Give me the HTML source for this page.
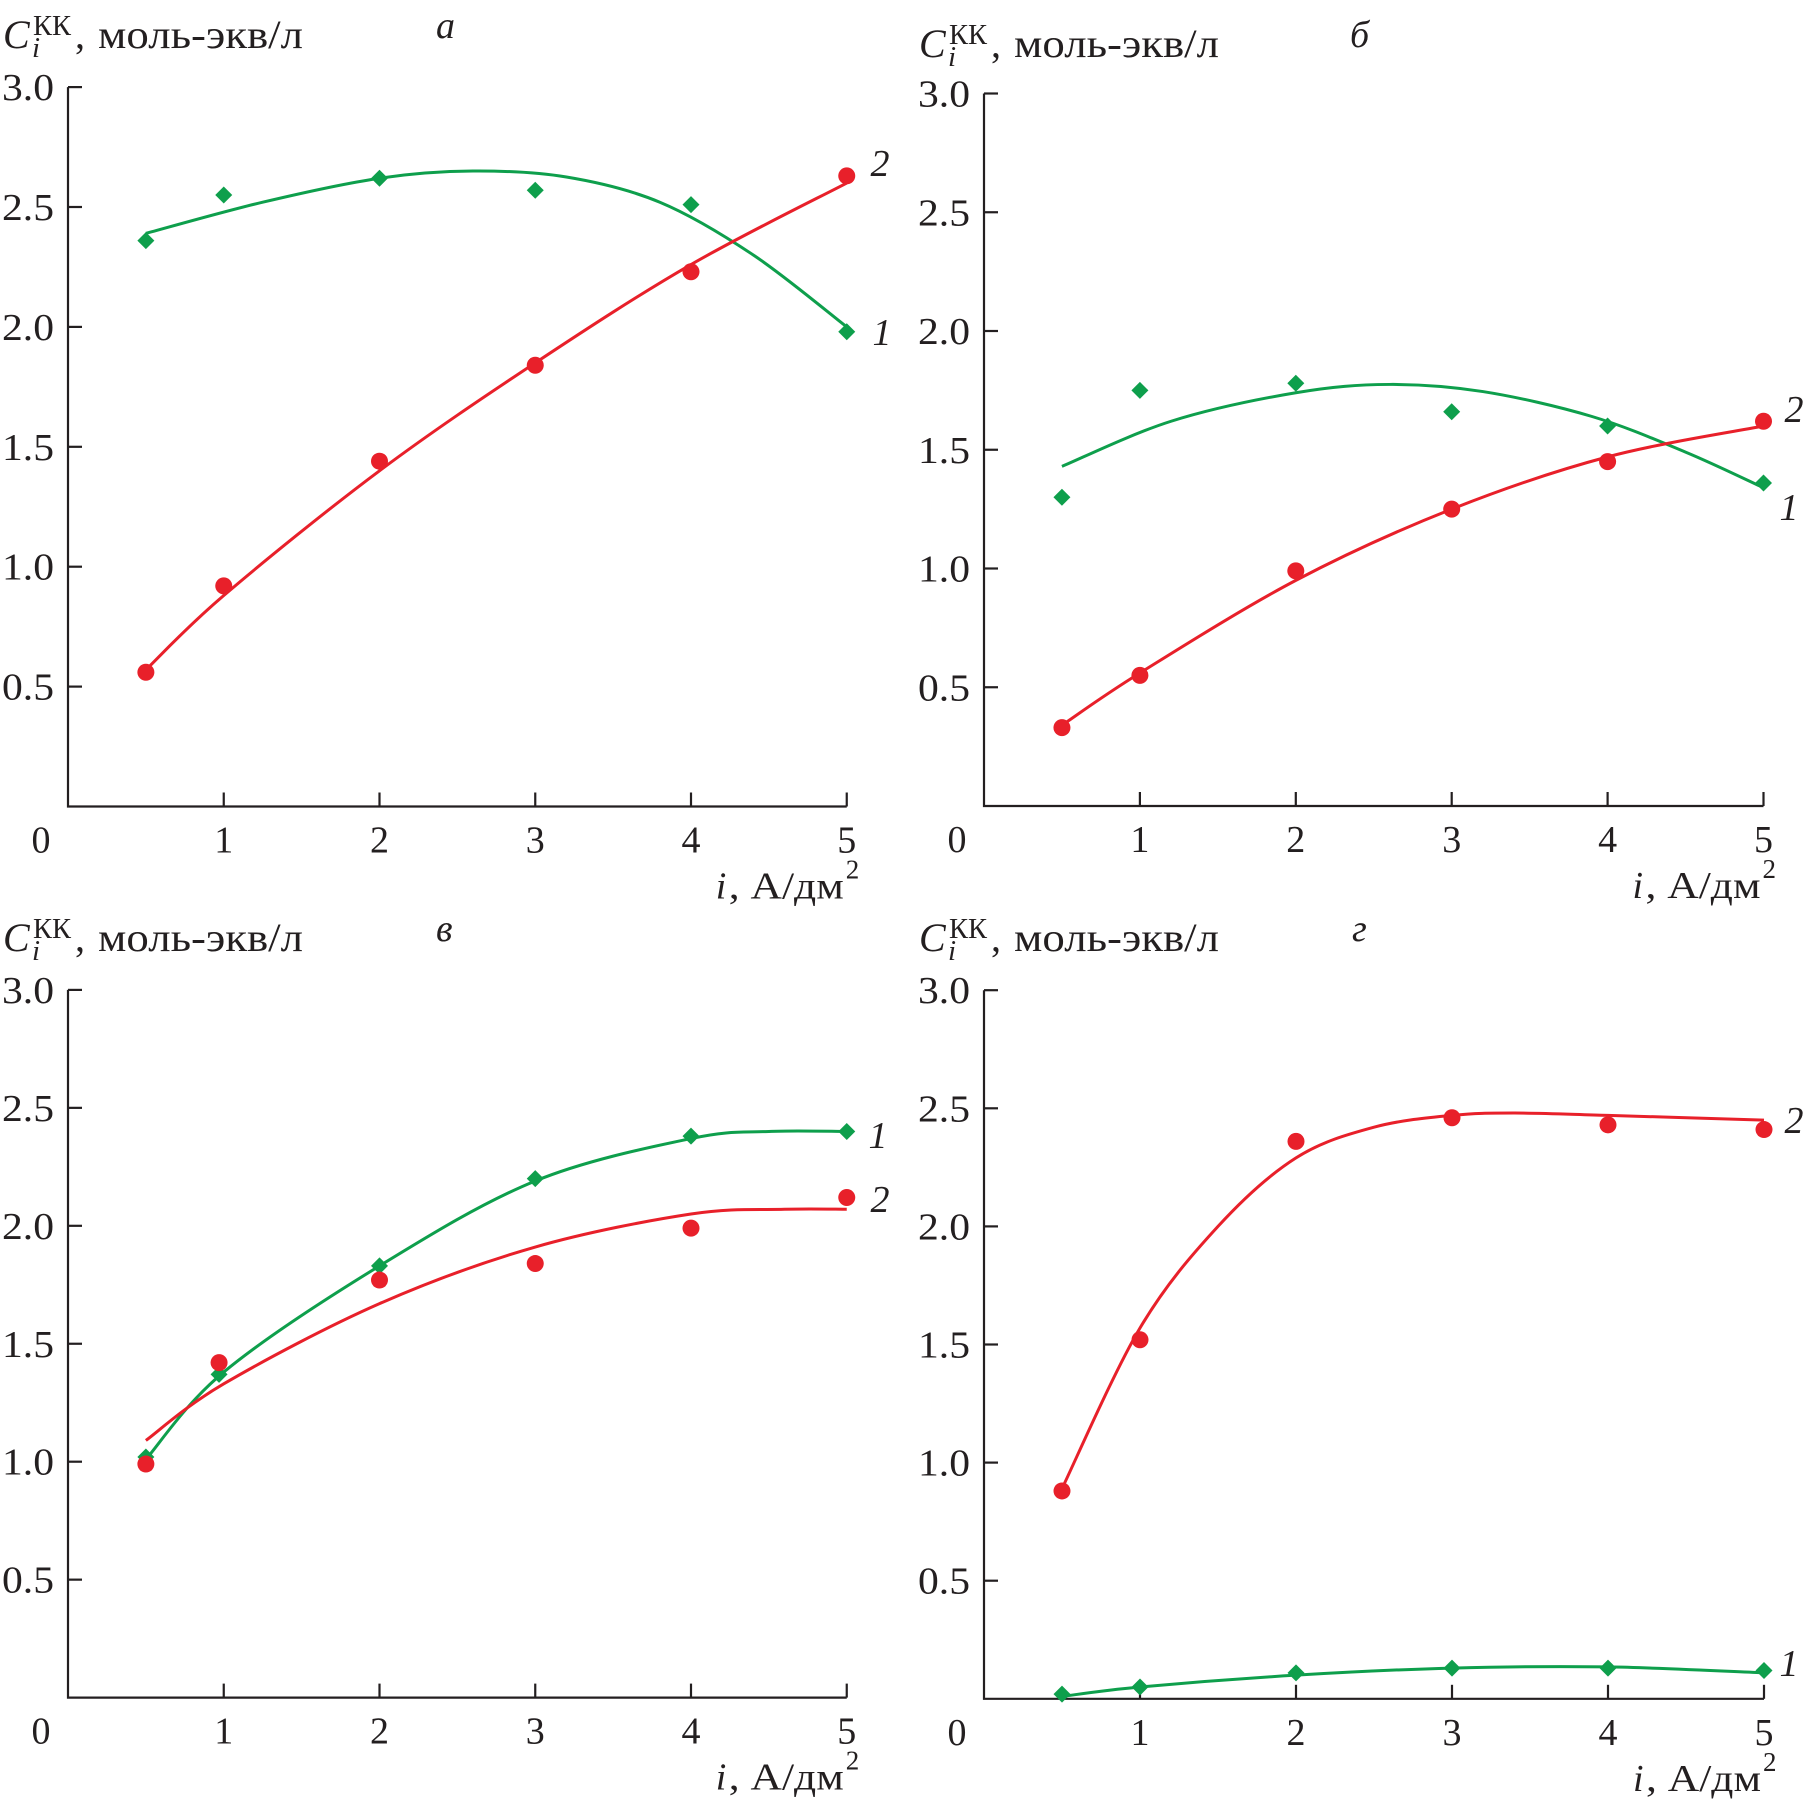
<!DOCTYPE html>
<html><head><meta charset="utf-8"><style>
html,body{margin:0;padding:0;background:#fff;}
svg{display:block;}
text{font-family:"Liberation Serif",serif;fill:#231f20;}
</style></head><body>
<svg id="s" width="1807" height="1808" viewBox="0 0 1807 1808" xmlns="http://www.w3.org/2000/svg"></svg>
<script>
const S=document.getElementById('s');
let out='';
const RED='#e8202a',GRN='#0e9f4c';
function panel(p){
 const {ax,y0,s,u,ttlY,letter,letX,labels}=p;
 const X=v=>ax+v*u, Y=v=>y0-v*s;
 out+=`<path d="M${ax} ${Y(3)} V${y0} H${X(5)}" stroke="#231f20" stroke-width="2.2" fill="none"/>`;
 for(let k=1;k<=6;k++){const v=k*0.5;out+=`<line x1="${ax}" x2="${ax+14}" y1="${Y(v)}" y2="${Y(v)}" stroke="#231f20" stroke-width="2.2"/>`;
  out+=`<text x="${ax-14}" y="${Y(v)+13}" font-size="38" text-anchor="end" textLength="52" lengthAdjust="spacingAndGlyphs">${v.toFixed(1)}</text>`;}
 for(let k=1;k<=5;k++){out+=`<line x1="${X(k)}" x2="${X(k)}" y1="${y0}" y2="${y0-14}" stroke="#231f20" stroke-width="2.2"/>`;
  out+=`<text x="${X(k)}" y="${y0+46}" font-size="38" text-anchor="middle">${k}</text>`;}
 out+=`<text x="${ax-27}" y="${y0+46}" font-size="38" text-anchor="middle">0</text>`;
 const xl=X(5)-131;
 out+=`<text x="${xl}" y="${y0+92}" font-size="38" font-style="italic">i</text>`;
 out+=`<text x="${xl+13}" y="${y0+92}" font-size="38" textLength="115" lengthAdjust="spacingAndGlyphs">, А/дм</text>`;
 out+=`<text x="${xl+130}" y="${y0+72}" font-size="27">2</text>`;
 const tx=ax-65;
 out+=`<text x="${tx}" y="${ttlY}" font-size="40" font-style="italic">C</text>`;
 out+=`<text x="${tx+30}" y="${ttlY-13}" font-size="29" textLength="38" lengthAdjust="spacingAndGlyphs">КК</text>`;
 out+=`<text x="${tx+29}" y="${ttlY+9}" font-size="29" font-style="italic">i</text>`;
 out+=`<text x="${tx+72}" y="${ttlY}" font-size="40">,</text>`;
 out+=`<text x="${tx+95}" y="${ttlY}" font-size="40" textLength="205" lengthAdjust="spacingAndGlyphs">моль-экв/л</text>`;
 out+=`<text x="${letX}" y="${ttlY-10}" font-size="38" font-style="italic">${letter}</text>`;
 for(const c of p.curves){
  const P=c.c.map(a=>[X(a[0]),Y(a[1])]);
  let d=`M${P[0][0]} ${P[0][1]}`;
  for(let i=0;i<P.length-1;i++){const p0=P[Math.max(0,i-1)],p1=P[i],p2=P[i+1],p3=P[Math.min(P.length-1,i+2)];
   d+=` C${p1[0]+(p2[0]-p0[0])/6} ${p1[1]+(p2[1]-p0[1])/6} ${p2[0]-(p3[0]-p1[0])/6} ${p2[1]-(p3[1]-p1[1])/6} ${p2[0]} ${p2[1]}`;}
  out+=`<path d="${d}" stroke="${c.col}" stroke-width="3" fill="none"/>`;
  for(const q of c.p){const x=X(q[0]),y=Y(q[1]);
   if(c.col==RED) out+=`<circle cx="${x}" cy="${y}" r="8.5" fill="${RED}"/>`;
   else out+=`<path d="M${x} ${y-8.5}L${x+8.5} ${y}L${x} ${y+8.5}L${x-8.5} ${y}Z" fill="${GRN}"/>`;}
 }
 for(const l of labels) out+=`<text x="${l[0]}" y="${l[1]+13}" font-size="38" font-style="italic" text-anchor="middle">${l[2]}</text>`;
}
panel({ax:68,y0:806.5,s:239.8,u:155.75,ttlY:48,letter:'а',letX:436,
 curves:[{col:GRN,p:[[0.5,2.36],[1,2.55],[2,2.62],[3,2.57],[4,2.51],[5,1.98]],c:[[0.5,2.39],[1.25,2.52],[2,2.62],[2.6,2.65],[3.2,2.625],[3.8,2.52],[4.4,2.3],[5,2.0]]},
 {col:RED,p:[[0.5,0.56],[1,0.92],[2,1.44],[3,1.84],[4,2.23],[5,2.63]],c:[[0.5,0.57],[1,0.88],[2,1.40],[3,1.85],[4,2.26],[5,2.60]]}],
 labels:[[880,163,'2'],[882,332,'1']]});
panel({ax:984,y0:806,s:237.5,u:155.9,ttlY:57,letter:'б',letX:1350,
 curves:[{col:GRN,p:[[0.5,1.30],[1,1.75],[2,1.78],[3,1.66],[4,1.60],[5,1.36]],c:[[0.5,1.43],[1.2,1.62],[2,1.74],[2.6,1.775],[3.2,1.745],[3.9,1.64],[4.5,1.49],[5,1.34]]},
 {col:RED,p:[[0.5,0.33],[1,0.55],[2,0.99],[3,1.25],[4,1.45],[5,1.62]],c:[[0.5,0.34],[1,0.56],[2,0.95],[3,1.25],[4,1.47],[5,1.60]]}],
 labels:[[1794,409,'2'],[1789,507,'1']]});
panel({ax:68,y0:1697.6,s:235.9,u:155.75,ttlY:951,letter:'в',letX:436,
 curves:[{col:GRN,p:[[0.5,1.02],[0.97,1.37],[2,1.83],[3,2.20],[4,2.38],[5,2.40]],c:[[0.5,1.01],[1,1.38],[2,1.83],[3,2.19],[4,2.37],[4.5,2.40],[5,2.40]]},
 {col:RED,p:[[0.5,0.99],[0.97,1.42],[2,1.77],[3,1.84],[4,1.99],[5,2.12]],c:[[0.5,1.09],[1,1.33],[2,1.67],[3,1.91],[4,2.05],[4.6,2.07],[5,2.07]]}],
 labels:[[878,1135,'1'],[880,1199,'2']]});
panel({ax:984,y0:1698.8,s:236.2,u:156,ttlY:951,letter:'г',letX:1352,
 curves:[{col:RED,p:[[0.5,0.88],[1,1.52],[2,2.36],[3,2.46],[4,2.43],[5,2.41]],c:[[0.5,0.89],[1,1.57],[1.5,2.0],[2,2.29],[2.5,2.42],[3,2.47],[3.4,2.48],[4,2.47],[5,2.45]]},
 {col:GRN,p:[[0.5,0.02],[1,0.05],[2,0.11],[3,0.13],[4,0.13],[5,0.12]],c:[[0.5,0.01],[1,0.05],[2,0.10],[3,0.13],[4,0.135],[5,0.11]]}],
 labels:[[1794,1120,'2'],[1789,1663,'1']]});
S.innerHTML=out;
</script>
</body></html>
